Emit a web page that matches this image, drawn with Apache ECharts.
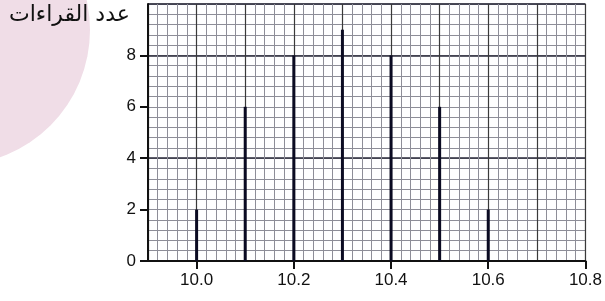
<!DOCTYPE html>
<html>
<head>
<meta charset="utf-8">
<script src="https://cdn.jsdelivr.net/npm/echarts@6/dist/echarts.min.js"></script>
<style>
  html, body { margin: 0; padding: 0; background: #fff; }
  #chart { width: 605px; height: 301px; }
</style>
</head>
<body>
<div id="chart"></div>
<script>
  // readings and how often each one occurred
  var readings = [10.0, 10.1, 10.2, 10.3, 10.4, 10.5, 10.6];
  var counts = [2, 6, 8, 9, 8, 6, 2];
  var xTickLabels = [10.0, 10.2, 10.4, 10.6, 10.8];
  var yTickLabels = [0, 2, 4, 6, 8];
  var yName = 'عدد القراءات';

  var barData = readings.map(function (r, i) { return [r, counts[i]]; });
  var font = '"Liberation Sans", Arial, sans-serif';

  var chart = echarts.init(document.getElementById('chart'));
  chart.setOption({
    animation: false,
    backgroundColor: '#fff',
    graphic: [
      {
        type: 'circle', z: -10, silent: true,
        shape: { cx: -45, cy: 30, r: 135 },
        style: { fill: '#f0dde7' }
      },
      {
        type: 'text', left: 9, top: 4, z: 10,
        style: { text: yName, fontSize: 22, fontFamily: '"DejaVu Sans", sans-serif', fill: '#111' }
      }
    ],
    grid: {
      left: 148, right: 18, top: 4, bottom: 40,
      show: true, borderColor: '#555', borderWidth: 1, backgroundColor: 'transparent'
    },
    xAxis: [
      {
        type: 'value', min: 9.9, max: 10.8, interval: 0.1,
        axisLine: { lineStyle: { color: '#111', width: 2 } },
        axisTick: { show: true, length: 8, lineStyle: { color: '#111', width: 2 }, customValues: xTickLabels },
        axisLabel: {
          customValues: xTickLabels, margin: 11, color: '#111', fontSize: 17, fontFamily: font,
          formatter: function (v) { return v.toFixed(1); }
        },
        splitLine: { show: false }
      },
      {
        type: 'value', min: 9.9, max: 10.8, interval: 0.1, position: 'bottom',
        axisLine: { show: false }, axisTick: { show: false }, axisLabel: { show: false },
        splitLine: { show: true, lineStyle: { color: '#3a3a3a', width: 1.2 } },
        minorTick: { show: false, splitNumber: 5 },
        minorSplitLine: { show: true, lineStyle: { color: '#8e8e98', width: 1 } }
      }
    ],
    yAxis: [
      {
        type: 'value', min: 0, max: 10, interval: 2,
        axisLine: { show: true, lineStyle: { color: '#111', width: 2 } },
        axisTick: { show: true, length: 8, lineStyle: { color: '#111', width: 2 }, customValues: yTickLabels },
        axisLabel: { customValues: yTickLabels, margin: 12, color: '#111', fontSize: 17, fontFamily: font },
        splitLine: { show: false }
      },
      {
        type: 'value', min: 0, max: 10, interval: 2,
        axisLine: { show: false }, axisTick: { show: false }, axisLabel: { show: false },
        splitLine: { show: true, lineStyle: { color: '#8e8e98', width: 1 } },
        minorTick: { show: false, splitNumber: 5 },
        minorSplitLine: { show: true, lineStyle: { color: '#8e8e98', width: 1 } }
      },
      {
        type: 'value', min: 0, max: 10, interval: 4,
        axisLine: { show: false }, axisTick: { show: false }, axisLabel: { show: false },
        splitLine: { show: true, lineStyle: { color: '#2a2a3a', width: 1.5 } }
      }
    ],
    series: [
      {
        type: 'bar', xAxisIndex: 0, yAxisIndex: 0,
        data: barData, barWidth: 3, z: 5,
        itemStyle: { color: '#0b0b22' }
      }
    ]
  });
</script>
</body>
</html>
